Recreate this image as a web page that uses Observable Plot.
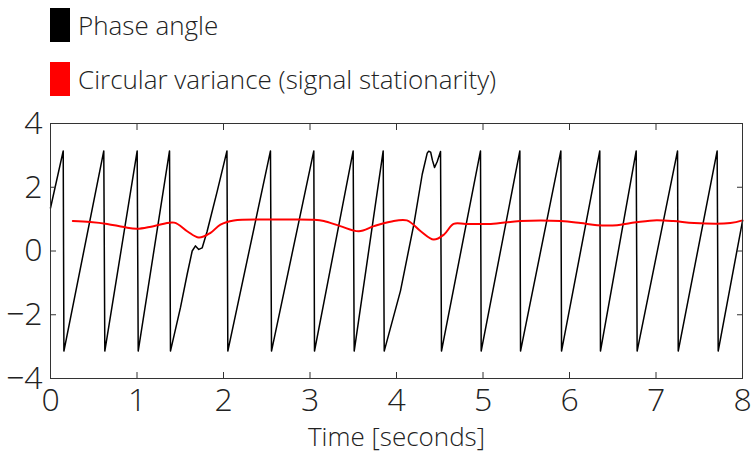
<!DOCTYPE html>
<html><head><meta charset="utf-8">
<script src="https://cdn.jsdelivr.net/npm/d3@7"></script>
<script src="https://cdn.jsdelivr.net/npm/@observablehq/plot@0.6"></script>
<style>
body{margin:0;background:#fff;font-family:"Open Sans",sans-serif;}
#legend{position:relative;height:100px;width:752px;}
.item{position:absolute;left:50px;display:flex;align-items:center;font-size:26px;font-weight:300;color:#222;height:34px;white-space:nowrap;}
.sw{width:20px;height:34px;margin-right:8px;}
#chart svg{display:block;}
</style></head><body>
<div id="legend"></div>
<div id="chart"></div>
<script>
const seriesNames = ["Phase angle", "Circular variance (signal stationarity)"];
const seriesColors = ["#000000", "#ff0000"];

const phaseTime = [0, 0.147, 0.155, 0.616, 0.628, 1.002, 1.014, 1.376, 1.387,
  1.503, 1.58, 1.638, 1.676, 1.714, 1.754, 1.811, 1.927, 2.04, 2.05,
  2.543, 2.555, 3.044, 3.052, 3.499, 3.511, 3.846, 3.858,
  4.046, 4.2, 4.297, 4.355, 4.372, 4.395, 4.415, 4.44, 4.47, 4.509, 4.52,
  4.971, 4.979, 5.426, 5.434, 5.90, 5.908, 6.35, 6.358, 6.771, 6.782,
  7.249, 7.257, 7.707, 7.719, 8.0];
const phaseValue = [1.35, 3.14, -3.14, 3.14, -3.14, 3.14, -3.14, 3.14, -3.14,
  -1.77, -0.73, 0.0, 0.16, 0.05, 0.1, 0.62, 1.87, 3.14, -3.14,
  3.14, -3.14, 3.14, -3.14, 3.14, -3.14, 3.14, -3.14,
  -1.25, 0.83, 2.4, 3.07, 3.13, 3.1, 2.85, 2.62, 2.8, 3.12, -3.14,
  3.14, -3.14, 3.14, -3.14, 3.14, -3.14, 3.14, -3.14, 3.14, -3.14,
  3.14, -3.14, 3.14, -3.14, 0.94];

const varTime = [0.258, 0.46, 0.655, 0.85, 1.0, 1.19, 1.43, 1.58, 1.715, 1.85, 1.965, 2.12,
  2.5, 2.775, 3.05, 3.16, 3.35, 3.565, 3.74, 3.93, 4.12, 4.28, 4.43, 4.55, 4.66, 4.8,
  5.09, 5.43, 5.9, 6.13, 6.32, 6.55, 6.71, 6.97, 7.2, 7.44, 7.86, 8.0];
const varValue = [0.94, 0.91, 0.85, 0.75, 0.70, 0.78, 0.89, 0.62, 0.42, 0.57, 0.83, 0.96,
  0.99, 0.99, 0.98, 0.94, 0.78, 0.62, 0.78, 0.92, 0.96, 0.62, 0.36, 0.52, 0.85, 0.85,
  0.85, 0.94, 0.94, 0.875, 0.81, 0.81, 0.88, 0.96, 0.94, 0.875, 0.875, 0.96];

const xTicks = [0, 1, 2, 3, 4, 5, 6, 7, 8];
const yTicks = [-4, -2, 0, 2, 4];
const xLabel = "Time [seconds]";

const phase = phaseTime.map((t, i) => ({t, v: phaseValue[i]}));
const cv = varTime.map((t, i) => ({t, v: varValue[i]}));

// legend
const legend = document.getElementById("legend");
seriesNames.forEach((name, i) => {
  const it = document.createElement("div");
  it.className = "item";
  it.style.top = (8 + i * 54) + "px";
  const sw = document.createElement("div");
  sw.className = "sw";
  sw.style.background = seriesColors[i];
  const tx = document.createElement("span");
  tx.textContent = name;
  it.appendChild(sw); it.appendChild(tx);
  legend.appendChild(it);
});

const chart = Plot.plot({
  width: 752, height: 353,
  marginLeft: 50, marginRight: 10, marginTop: 23, marginBottom: 75,
  x: {domain: [0, 8]},
  y: {domain: [-4, 4]},
  style: {fontFamily: "Open Sans, sans-serif", fontWeight: 300, color: "#222", background: "#fff"},
  marks: [
    Plot.line(phase, {x: "t", y: "v", stroke: seriesColors[0], strokeWidth: 1.5}),
    Plot.line(cv, {x: "t", y: "v", stroke: seriesColors[1], strokeWidth: 2, curve: "catmull-rom"}),
    Plot.frame({stroke: "#333", strokeWidth: 1}),
    Plot.axisX(xTicks, {anchor: "bottom", tickSize: -6, tickPadding: 16, fontSize: 32, label: null, stroke: "#333"}),
    Plot.axisX(xTicks, {anchor: "top", tickSize: -6, tickFormat: () => "", label: null, stroke: "#333"}),
    Plot.axisY(yTicks, {anchor: "left", tickSize: -6, tickPadding: 14, fontSize: 32, label: null, stroke: "#333"}),
    Plot.axisY(yTicks, {anchor: "right", tickSize: -6, tickFormat: () => "", label: null, stroke: "#333"}),
    Plot.text([xLabel], {frameAnchor: "bottom", dy: 67, fontSize: 26, fill: "#222"})
  ]
});
document.getElementById("chart").appendChild(chart);
</script>
</body></html>
